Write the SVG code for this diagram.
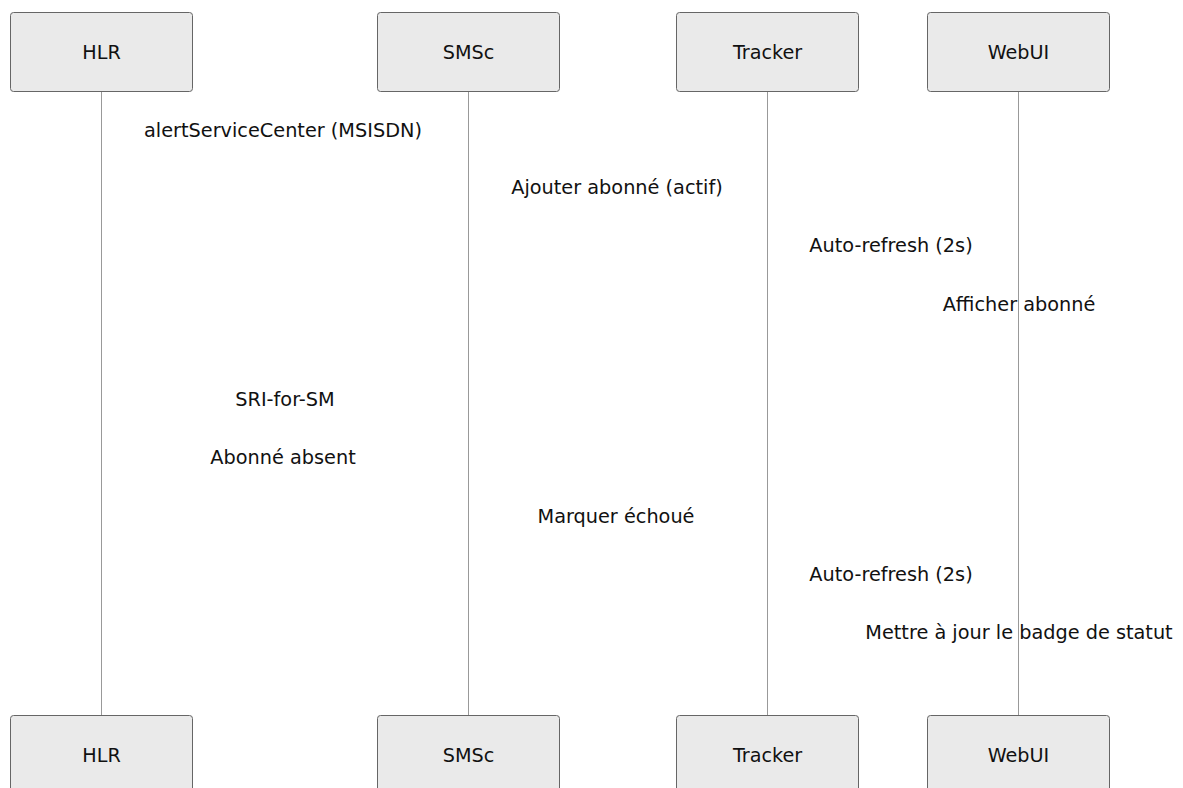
<svg xmlns="http://www.w3.org/2000/svg" width="1183" height="788" viewBox="0 0 1183 788">
<style>
.actor{fill:#eaeaea;stroke:#666;stroke-width:1}
.atext{font-family:"DejaVu Sans",sans-serif;font-size:19.2px;fill:#111;text-anchor:middle;dominant-baseline:central}
.life{stroke:#999;stroke-width:1}
.msg{font-family:"DejaVu Sans",sans-serif;font-size:19.3px;fill:#111;text-anchor:middle}
</style>
<rect width="1183" height="788" fill="#fff"/>
<g id="lifelines">
<line class="life" x1="101.5" y1="91" x2="101.5" y2="715"/>
<line class="life" x1="468.5" y1="91" x2="468.5" y2="715"/>
<line class="life" x1="767.5" y1="91" x2="767.5" y2="715"/>
<line class="life" x1="1018.5" y1="91" x2="1018.5" y2="715"/>
</g>
<g id="actor-HLR-top"><rect class="actor" x="10.5" y="12.5" width="182" height="79" rx="3"/><text class="atext" x="101.5" y="52">HLR</text></g>
<g id="actor-SMSc-top"><rect class="actor" x="377.5" y="12.5" width="182" height="79" rx="3"/><text class="atext" x="468.5" y="52">SMSc</text></g>
<g id="actor-Tracker-top"><rect class="actor" x="676.5" y="12.5" width="182" height="79" rx="3"/><text class="atext" x="767.5" y="52">Tracker</text></g>
<g id="actor-WebUI-top"><rect class="actor" x="927.5" y="12.5" width="182" height="79" rx="3"/><text class="atext" x="1018.5" y="52">WebUI</text></g>
<g id="actor-HLR-bottom"><rect class="actor" x="10.5" y="715.5" width="182" height="79" rx="3"/><text class="atext" x="101.5" y="755">HLR</text></g>
<g id="actor-SMSc-bottom"><rect class="actor" x="377.5" y="715.5" width="182" height="79" rx="3"/><text class="atext" x="468.5" y="755">SMSc</text></g>
<g id="actor-Tracker-bottom"><rect class="actor" x="676.5" y="715.5" width="182" height="79" rx="3"/><text class="atext" x="767.5" y="755">Tracker</text></g>
<g id="actor-WebUI-bottom"><rect class="actor" x="927.5" y="715.5" width="182" height="79" rx="3"/><text class="atext" x="1018.5" y="755">WebUI</text></g>
<g id="messages">
<text class="msg" x="283" y="137">alertServiceCenter (MSISDN)</text>
<text class="msg" x="617" y="194">Ajouter abonné (actif)</text>
<text class="msg" x="891" y="252">Auto-refresh (2s)</text>
<text class="msg" x="1019" y="311">Afficher abonné</text>
<text class="msg" x="285" y="406">SRI-for-SM</text>
<text class="msg" x="283" y="464">Abonné absent</text>
<text class="msg" x="616" y="523">Marquer échoué</text>
<text class="msg" x="891" y="581">Auto-refresh (2s)</text>
<text class="msg" x="1019" y="639">Mettre à jour le badge de statut</text>
</g>
</svg>
